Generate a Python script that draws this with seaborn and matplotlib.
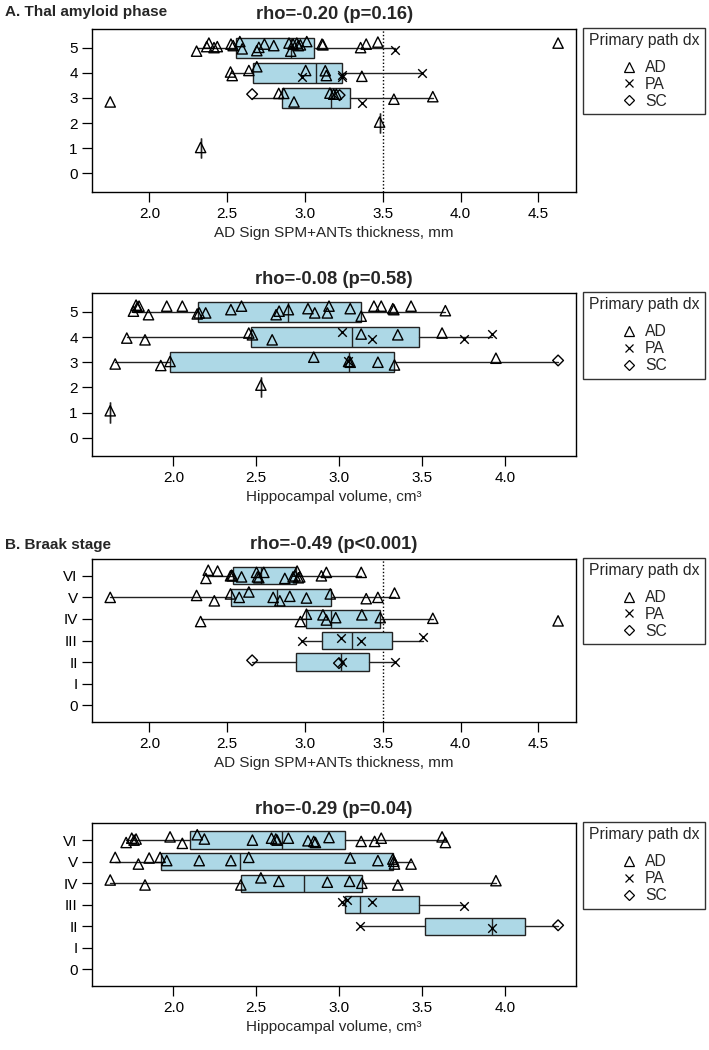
import matplotlib
matplotlib.use("Agg")
import matplotlib.pyplot as plt
from matplotlib.lines import Line2D
import numpy as np
import pandas as pd
import seaborn as sns

sns.set_style("ticks")
plt.rcParams['font.family'] = ['Liberation Sans', 'DejaVu Sans']
plt.rcParams['font.size'] = 11

#-------------------------#
#----- data (read off) ---#
#-------------------------#

# A. Thal phase vs AD signature thickness
thal_thk_stage = [5]*27 + [4]*12 + [3]*12 + [2, 1]
thal_thk_dx = (["AD"]*26 + ["PA"] + ["AD"]*8 + ["PA"]*4
               + ["SC"] + ["AD"]*9 + ["SC", "PA"] + ["AD", "AD"])
thal_thk_val = [2.303, 2.368, 2.382, 2.415, 2.436, 2.524, 2.538, 2.581, 2.596, 2.690,
                2.703, 2.739, 2.799, 2.897, 2.908, 2.923, 2.947, 2.957, 2.970, 3.011,
                3.109, 3.115, 3.357, 3.393, 3.468, 4.626, 3.577,
                2.521, 2.532, 2.639, 2.690, 3.004, 3.130, 3.137, 3.365, 2.981, 3.237, 3.237, 3.752,
                2.660, 2.831, 2.863, 2.929, 3.160, 3.184, 3.201, 3.571, 3.821, 1.748, 3.222, 3.363,
                3.479, 2.329]
thal_thk_jit = [-0.14, 0.04, 0.18, 0.00, 0.04, 0.14, 0.08, 0.24, -0.05, -0.12,
                0.01, 0.14, 0.08, 0.18, -0.14, 0.14, 0.18, 0.08, 0.11, 0.24,
                0.14, 0.11, 0.00, 0.14, 0.22, 0.18, -0.09,
                0.03, -0.11, 0.09, 0.24, 0.09, 0.08, -0.11, -0.14, -0.18, -0.07, -0.18, -0.01,
                0.15, 0.18, 0.18, -0.16, 0.19, 0.15, 0.15, -0.05, 0.05, -0.16, 0.11, -0.22,
                0.04, 0.03]
thal_thk_box = [5, 4, 3, 2, 1]
thal_thk_q1 = [2.558, 2.667, 2.853, 3.479, 2.329]
thal_thk_med = [2.908, 3.068, 3.167, 3.479, 2.329]
thal_thk_q3 = [3.058, 3.237, 3.291, 3.479, 2.329]
thal_thk_lo = [2.303, 2.521, 2.660, 3.479, 2.329]
thal_thk_hi = [3.577, 3.752, 3.821, 3.479, 2.329]

# A. Thal phase vs hippocampal volume
thal_vol_stage = [5]*27 + [4]*12 + [3]*11 + [2, 1]
thal_vol_dx = (["AD"]*27 + ["AD"]*8 + ["PA"]*4 + ["AD"]*9 + ["PA", "SC"] + ["AD", "AD"])
thal_vol_val = [1.759, 1.775, 1.783, 1.793, 1.850, 1.960, 2.054, 2.144, 2.156, 2.195,
                2.347, 2.411, 2.620, 2.638, 2.694, 2.812, 2.853, 2.929, 2.939, 3.067,
                3.133, 3.210, 3.254, 3.324, 3.330, 3.434, 3.641,
                1.719, 1.829, 2.455, 2.477, 2.596, 3.133, 3.354, 3.621, 3.017, 3.198, 3.755, 3.920,
                1.649, 1.924, 1.980, 2.847, 3.057, 3.067, 3.234, 3.334, 3.946, 3.053, 4.321,
                2.528, 1.619]
thal_vol_jit = [0.03, 0.27, 0.19, 0.23, -0.11, 0.23, 0.23, -0.08, -0.04, -0.04,
                0.09, 0.23, -0.11, 0.03, 0.09, 0.13, -0.04, -0.04, 0.23, 0.13,
                -0.17, 0.23, 0.23, 0.13, 0.09, 0.23, 0.05,
                -0.04, -0.11, 0.16, 0.09, -0.11, 0.12, 0.09, 0.16, 0.19, -0.07, -0.07, 0.13,
                -0.07, -0.13, 0.03, 0.20, 0.03, 0.00, 0.00, -0.11, 0.16, 0.05, 0.07,
                0.09, 0.07]
thal_vol_box = [5, 4, 3, 2, 1]
thal_vol_q1 = [2.150, 2.471, 1.980, 2.528, 1.619]
thal_vol_med = [2.694, 3.077, 3.057, 2.528, 1.619]
thal_vol_q3 = [3.129, 3.484, 3.334, 2.528, 1.619]
thal_vol_lo = [1.759, 1.719, 1.649, 2.528, 1.619]
thal_vol_hi = [3.641, 3.920, 4.321, 2.528, 1.619]

# B. Braak stage vs AD signature thickness
braak_thk_stage = [6]*20 + [5]*14 + [4]*10 + [3]*4 + [2]*4
braak_thk_dx = ["AD"]*20 + ["AD"]*14 + ["AD"]*10 + ["PA"]*4 + ["SC", "SC", "PA", "PA"]
braak_thk_val = [2.363, 2.378, 2.438, 2.521, 2.528, 2.534, 2.592, 2.688, 2.694, 2.703,
                 2.735, 2.870, 2.923, 2.936, 2.949, 2.957, 2.966, 3.105, 3.137, 3.361,
                 1.748, 2.303, 2.417, 2.521, 2.577, 2.639, 2.795, 2.838, 2.902, 3.009,
                 3.162, 3.393, 3.468, 3.575,
                 2.329, 2.970, 3.009, 3.115, 3.137, 3.197, 3.365, 3.483, 3.821, 4.626,
                 2.981, 3.233, 3.361, 3.756,
                 2.660, 3.218, 3.237, 3.575]
braak_thk_jit = [-0.12, 0.26, 0.22, 0.00, 0.03, 0.00, -0.05, 0.16, -0.05, -0.09,
                 0.16, -0.12, -0.05, 0.00, 0.22, -0.09, -0.05, 0.00, 0.16, 0.16,
                 0.00, 0.09, -0.16, 0.16, 0.00, 0.25, 0.00, -0.16, 0.05, -0.03,
                 0.16, -0.06, 0.00, 0.20,
                 -0.12, -0.12, 0.22, 0.19, -0.05, 0.06, 0.19, 0.06, 0.03, -0.09,
                 -0.03, 0.12, -0.03, 0.17,
                 0.08, -0.05, 0.00, 0.00]
braak_thk_box = [6, 5, 4, 3, 2]
braak_thk_q1 = [2.538, 2.526, 3.004, 3.109, 2.940]
braak_thk_med = [2.716, 2.821, 3.169, 3.301, 3.233]
braak_thk_q3 = [2.944, 3.165, 3.483, 3.558, 3.408]
braak_thk_lo = [2.363, 1.748, 2.329, 2.981, 2.660]
braak_thk_hi = [3.361, 3.575, 3.821, 3.756, 3.575]

# B. Braak stage vs hippocampal volume
braak_vol_stage = [6]*22 + [5]*14 + [4]*10 + [3]*4 + [2]*3
braak_vol_dx = ["AD"]*22 + ["AD"]*14 + ["AD"]*10 + ["PA"]*4 + ["PA", "PA", "SC"]
braak_vol_val = [1.715, 1.749, 1.763, 1.775, 1.980, 2.054, 2.144, 2.187, 2.477, 2.592,
                 2.618, 2.626, 2.694, 2.812, 2.847, 2.857, 2.939, 3.133, 3.214, 3.254,
                 3.621, 3.641,
                 1.649, 1.789, 1.854, 1.920, 1.960, 2.156, 2.347, 2.455, 3.067, 3.234,
                 3.324, 3.330, 3.334, 3.434,
                 1.619, 1.829, 2.407, 2.528, 2.636, 2.929, 3.063, 3.137, 3.354, 3.946,
                 3.017, 3.047, 3.198, 3.755,
                 3.123, 3.920, 4.321]
braak_vol_jit = [-0.11, 0.09, 0.00, 0.05, 0.15, -0.15, 0.25, 0.05, 0.00, 0.09,
                 0.05, 0.00, 0.09, -0.03, -0.06, -0.11, 0.12, -0.06, -0.06, 0.09,
                 0.15, -0.11,
                 0.20, -0.11, 0.17, 0.20, 0.05, 0.05, 0.05, 0.20, 0.17, 0.05,
                 0.12, 0.02, -0.11, -0.11,
                 0.15, -0.08, -0.08, 0.25, 0.09, 0.05, 0.09, 0.00, -0.08, 0.12,
                 0.15, 0.22, 0.11, -0.05,
                 0.00, -0.08, 0.05]
braak_vol_box = [6, 5, 4, 3, 2]
braak_vol_q1 = [2.100, 1.924, 2.411, 3.037, 3.521]
braak_vol_med = [2.658, 2.405, 2.786, 3.127, 3.920]
braak_vol_q3 = [3.037, 3.328, 3.137, 3.480, 4.120]
braak_vol_lo = [1.715, 1.649, 1.619, 3.017, 3.123]
braak_vol_hi = [3.641, 3.434, 3.946, 3.755, 4.321]

thal_labels = ["0", "1", "2", "3", "4", "5"]
braak_labels = ["0", "I", "II", "III", "IV", "V", "VI"]
dx_levels = ["AD", "PA", "SC"]

thk_label = "AD Sign SPM+ANTs thickness, mm"
vol_label = "Hippocampal volume, cm³"


def draw_panel(ax, stage, dx, val, jit, box, q1, med, q3, lo, hi,
               ylabels, title, xlabel, xticks, cutoff=None):
    df = pd.DataFrame({"stage": stage, "dx": dx, "val": val, "jit": jit})
    df["y"] = df["stage"] + df["jit"]

    stats = [dict(med=m, q1=a, q3=b, whislo=l, whishi=h, fliers=[])
             for a, m, b, l, h in zip(q1, med, q3, lo, hi)]
    ax.bxp(stats, positions=box, widths=0.8, orientation="horizontal",
           patch_artist=True, showcaps=False, showfliers=False,
           boxprops=dict(facecolor="#ADD8E6", edgecolor="#222222", linewidth=1),
           medianprops=dict(color="#222222", linewidth=1),
           whiskerprops=dict(color="#222222", linewidth=1))

    if cutoff is not None:
        ax.axvline(cutoff, color="black", ls=(0, (1, 1.5)), lw=1, zorder=1)

    for d in dx_levels:
        sub = df[df["dx"] == d]
        if len(sub) == 0:
            continue
        if d == "PA":
            sns.scatterplot(data=sub, x="val", y="y", marker="x", s=38,
                            color="black", linewidth=1, ax=ax, zorder=4)
        elif d == "SC":
            sns.scatterplot(data=sub, x="val", y="y", marker="D", s=30,
                            facecolor="none", edgecolor="black", linewidth=1,
                            ax=ax, zorder=4)
        else:
            sns.scatterplot(data=sub, x="val", y="y", marker="^", s=55,
                            facecolor="none", edgecolor="black", linewidth=1,
                            ax=ax, zorder=4)

    # R-style limits: 4% extension of the data range
    vmin, vmax = min(val), max(val)
    pad = 0.04 * (vmax - vmin)
    ax.set_xlim(vmin - pad, vmax + pad)
    n = len(ylabels)
    ypad = 0.04 * n
    ax.set_ylim(-0.5 - ypad, n - 0.5 + ypad)
    ax.set_yticks(range(n))
    ax.set_yticklabels(ylabels)
    ax.set_xticks(xticks)
    ax.set_xticklabels([f"{t:.1f}" for t in xticks])
    ax.set_xlabel(xlabel, labelpad=4)
    ax.set_ylabel("")
    ax.set_title(title, fontweight="bold", pad=7)
    ax.tick_params(direction="out", length=7, width=0.9, colors="black")
    for sp in ax.spines.values():
        sp.set_visible(True)
        sp.set_linewidth(1)
        sp.set_color("black")

    handles = [Line2D([], [], marker="^", ls="none", mfc="none", mec="black", ms=7, mew=0.9),
               Line2D([], [], marker="x", ls="none", color="black", ms=6, mew=0.9),
               Line2D([], [], marker="D", ls="none", mfc="none", mec="black", ms=5, mew=0.9)]
    leg = ax.legend(handles, dx_levels, title="Primary path dx", loc="upper left",
                    bbox_to_anchor=(1.015, 1.008), frameon=True, fancybox=False,
                    edgecolor="black", alignment="center", borderaxespad=0,
                    handlelength=1.0, handletextpad=0.5, labelspacing=0.12,
                    borderpad=0.35, fontsize=11.3, title_fontsize=11.3)
    leg.get_frame().set_linewidth(1)
    # extra gap between the legend title and its entries
    leg._legend_box.sep = 8.5


fig = plt.figure(figsize=(7.09, 10.5), dpi=100)
L, W, H = 92.3 / 709, 483.7 / 709, 163 / 1050
tops = [29, 293.3, 559, 823.3]
axs = [fig.add_axes([L, 1 - (t + 163) / 1050, W, H]) for t in tops]

thk_ticks = [2.0, 2.5, 3.0, 3.5, 4.0, 4.5]
vol_ticks = [2.0, 2.5, 3.0, 3.5, 4.0]

draw_panel(axs[0], thal_thk_stage, thal_thk_dx, thal_thk_val, thal_thk_jit,
           thal_thk_box, thal_thk_q1, thal_thk_med, thal_thk_q3, thal_thk_lo, thal_thk_hi,
           thal_labels, "rho=-0.20 (p=0.16)", thk_label, thk_ticks, cutoff=3.5)
draw_panel(axs[1], thal_vol_stage, thal_vol_dx, thal_vol_val, thal_vol_jit,
           thal_vol_box, thal_vol_q1, thal_vol_med, thal_vol_q3, thal_vol_lo, thal_vol_hi,
           thal_labels, "rho=-0.08 (p=0.58)", vol_label, vol_ticks)
draw_panel(axs[2], braak_thk_stage, braak_thk_dx, braak_thk_val, braak_thk_jit,
           braak_thk_box, braak_thk_q1, braak_thk_med, braak_thk_q3, braak_thk_lo, braak_thk_hi,
           braak_labels, "rho=-0.49 (p<0.001)", thk_label, thk_ticks, cutoff=3.5)
draw_panel(axs[3], braak_vol_stage, braak_vol_dx, braak_vol_val, braak_vol_jit,
           braak_vol_box, braak_vol_q1, braak_vol_med, braak_vol_q3, braak_vol_lo, braak_vol_hi,
           braak_labels, "rho=-0.29 (p=0.04)", vol_label, vol_ticks)

fig.text(5 / 709, 1 - 12 / 1050, "A. Thal amyloid phase", fontweight="bold",
         ha="left", va="center", fontsize=11)
fig.text(5 / 709, 1 - 545 / 1050, "B. Braak stage", fontweight="bold",
         ha="left", va="center", fontsize=11)

fig.savefig("out.png", dpi=100)
